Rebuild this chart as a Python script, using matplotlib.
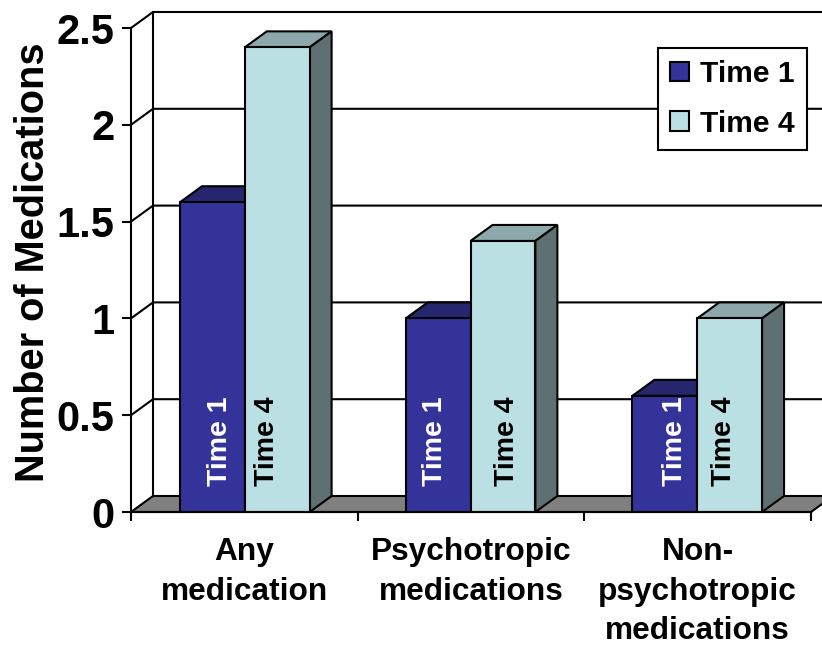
import matplotlib
matplotlib.use('Agg')
import matplotlib.pyplot as plt
from matplotlib.patches import Polygon

plt.rcParams['font.family'] = ['Liberation Sans', 'DejaVu Sans']
plt.rcParams['font.weight'] = 'bold'

categories = ['Any\nmedication', 'Psychotropic\nmedications', 'Non-\npsychotropic\nmedications']
time1 = [1.6, 1.0, 0.6]
time4 = [2.4, 1.4, 1.0]
yticks = [0, 0.5, 1, 1.5, 2, 2.5]
ytick_labels = ['0', '0.5', '1', '1.5', '2', '2.5']

W, H = 822, 647
fig = plt.figure(figsize=(W / 100, H / 100), dpi=100)
ax = fig.add_axes([131 / W, 1 - 512 / H, 680 / W, 484 / H])
ax.set_xlim(0, 3)
ax.set_ylim(0, 2.5)

# 3d depth of the box, in data units
px = 3 / 680
dx = 22 * px
dy = 16 / (484 / 2.5)
lw = 1.5


def poly(pts, color, z):
    ax.add_patch(Polygon(pts, closed=True, facecolor=color, edgecolor='black',
                         lw=lw, clip_on=False, zorder=z, joinstyle='miter'))


# floor and back wall
poly([(0, 0), (dx, dy), (3 + dx, dy), (3, 0)], '#808080', 1)
ax.plot([dx, dx], [dy, 2.5 + dy], color='black', lw=lw, clip_on=False, zorder=1)
for v in yticks[1:]:
    ax.plot([0, dx, 3 + dx], [v, v + dy, v + dy], color='black', lw=lw, clip_on=False, zorder=1)

bar_w = 0.286
offset = [0.216, 0.212, 0.212]
xs1 = [i + offset[i] + bar_w / 2 for i in range(3)]
xs4 = [x + bar_w for x in xs1]


def bars(xs, vals, front, top, side, z, label):
    for x, v in zip(xs, vals):
        l, r = x - bar_w / 2, x + bar_w / 2
        poly([(l, v), (l + dx, v + dy), (r + dx, v + dy), (r, v)], top, z)
        poly([(r, 0), (r + dx, dy), (r + dx, v + dy), (r, v)], side, z)
    return ax.bar(xs, vals, width=bar_w, color=front, edgecolor='black', lw=lw,
                  zorder=z + 1, label=label)


b1 = bars(xs1, time1, '#333399', '#26266F', '#26266F', 2, 'Time 1')
b4 = bars(xs4, time4, '#BBE0E3', '#8CA8AA', '#5E7072', 4, 'Time 4')

# labels inside the bars, the original ones sit off centre
y_txt = 26 / (484 / 2.5)
shift1 = [8, -3, 10]
shift4 = [-10, 4, -6]
for x, s in zip(xs1, shift1):
    ax.text(x + s * px, y_txt, 'Time 1', rotation=90, color='white', fontsize=20.5,
            ha='center', va='bottom', zorder=8)
for x, s in zip(xs4, shift4):
    ax.text(x + s * px, y_txt, 'Time 4', rotation=90, color='black', fontsize=20.5,
            ha='center', va='bottom', zorder=8)

for s in ['top', 'right']:
    ax.spines[s].set_visible(False)
for s in ['left', 'bottom']:
    ax.spines[s].set_linewidth(lw)
    ax.spines[s].set_zorder(7)
ax.patch.set_visible(False)

ax.set_yticks(yticks)
ax.set_yticklabels(ytick_labels, fontsize=30)
ax.set_xticks([0, 1, 2, 3])
ax.set_xticklabels([])
ax.set_xticks([0.5, 1.5, 2.5], minor=True)
ax.set_xticklabels(categories, minor=True, fontsize=22.8, linespacing=1.42)
ax.tick_params(axis='both', which='major', length=6.5, width=lw, direction='out')
ax.tick_params(axis='y', pad=5.5)
ax.tick_params(axis='x', which='minor', length=0, pad=18)
ax.set_ylabel('Number of Medications', fontsize=28.6, fontweight='bold')
ax.yaxis.set_label_coords((52 - 131) / 680, (512 - 262) / 484)

leg = fig.legend(handles=[b1, b4], loc='upper left',
                 bbox_to_anchor=(658 / W, 1 - 48 / H), fontsize=21.6,
                 fancybox=False, framealpha=1, edgecolor='black',
                 handlelength=0.63, handleheight=0.63, handletextpad=0.37,
                 labelspacing=0.72, borderpad=0.4, borderaxespad=0)
leg.get_frame().set_linewidth(lw)
leg.set_zorder(10)

fig.savefig('out.png', dpi=100)
